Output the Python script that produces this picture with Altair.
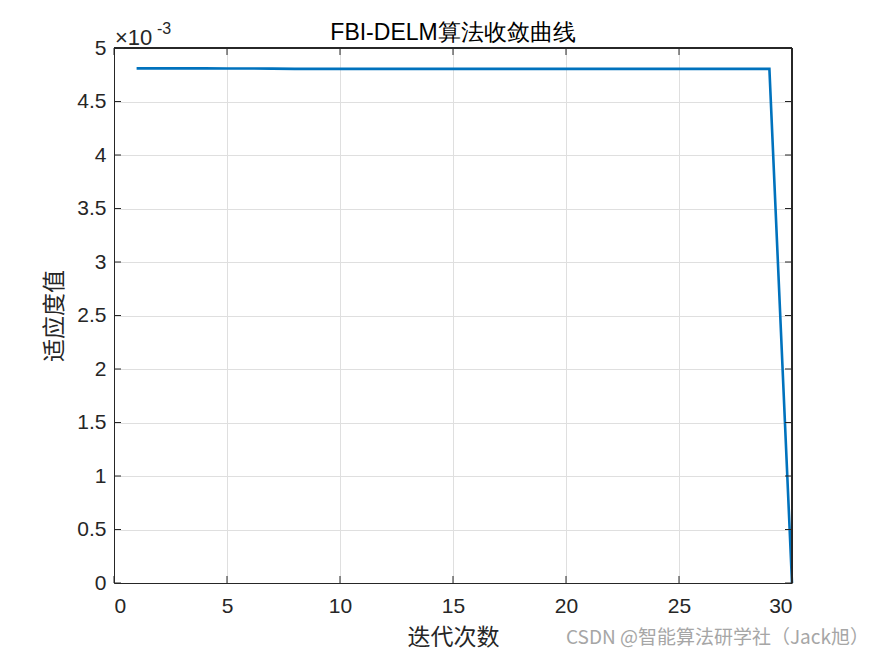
import altair as alt
import pandas as pd

# iteration numbers and fitness values
iterations = list(range(1, 31))
fitness = [0.004810, 0.004810, 0.004810, 0.004810, 0.004809, 0.004808, 0.004807,
           0.004805, 0.004805, 0.004805, 0.004805, 0.004805, 0.004805, 0.004805,
           0.004805, 0.004805, 0.004805, 0.004805, 0.004805, 0.004805, 0.004805,
           0.004805, 0.004805, 0.004805, 0.004805, 0.004805, 0.004805, 0.004805,
           0.004805, 0.0]
x_ticks = [0, 5, 10, 15, 20, 25, 30]
y_ticks = [0, 0.0005, 0.001, 0.0015, 0.002, 0.0025, 0.003, 0.0035, 0.004, 0.0045, 0.005]

title_text = "FBI-DELM算法收敛曲线"
x_title = "迭代次数"
y_title = "适应度值"
watermark = "CSDN @智能算法研学社（Jack旭）"

W, H = 678, 535
df = pd.DataFrame({"x": iterations, "y": fitness})
xt = pd.DataFrame({"v": x_ticks})
yt = pd.DataFrame({"v": y_ticks})

xs = alt.Scale(domain=[0, 30], nice=False, zero=False)
ys = alt.Scale(domain=[0, 0.005], nice=False, zero=False)

base_font = "Liberation Sans"
cjk = "Noto Sans CJK SC"

line = alt.Chart(df).mark_line(color="#0072BD", strokeWidth=2.6, clip=False).encode(
    x=alt.X("x:Q", scale=xs, axis=alt.Axis(
        values=x_ticks, title=x_title, titleFont=cjk, titleFontSize=23,
        titleFontWeight="normal", titleColor="#262626", titlePadding=10,
        labelFont=base_font, labelFontSize=21, labelColor="#262626", labelPadding=12,
        ticks=False, grid=True, gridColor="#dfdfdf", domainColor="#262626")),
    y=alt.Y("y:Q", scale=ys, axis=alt.Axis(
        values=y_ticks, title=y_title, titleFont=cjk, titleFontSize=23,
        titleFontWeight="normal", titleColor="#262626", titlePadding=10,
        labelFont=base_font, labelFontSize=21, labelColor="#262626", labelPadding=8,
        labelExpr="format(datum.value*1000, '')",
        ticks=False, grid=True, gridColor="#dfdfdf", domainColor="#262626")),
)

tk = dict(color="#262626", strokeWidth=1)
xb = alt.Chart(xt).mark_rule(**tk).encode(x=alt.X("v:Q", scale=xs), y=alt.value(H), y2=alt.value(H - 7))
xtop = alt.Chart(xt).mark_rule(**tk).encode(x=alt.X("v:Q", scale=xs), y=alt.value(0), y2=alt.value(7))
yl = alt.Chart(yt).mark_rule(**tk).encode(y=alt.Y("v:Q", scale=ys), x=alt.value(0), x2=alt.value(7))
yr = alt.Chart(yt).mark_rule(**tk).encode(y=alt.Y("v:Q", scale=ys), x=alt.value(W), x2=alt.value(W - 7))
top_border = alt.Chart(xt).mark_rule(**tk).encode(x=alt.value(0), x2=alt.value(W), y=alt.value(0))
right_border = alt.Chart(xt).mark_rule(**tk).encode(x=alt.value(W), y=alt.value(0), y2=alt.value(H))

ttl = alt.Chart(pd.DataFrame({"t": [title_text]})).mark_text(
    font=base_font, fontSize=23, color="#000000", align="center", baseline="middle"
).encode(text="t:N", x=alt.value(W / 2), y=alt.value(-15))

exp_base = alt.Chart(pd.DataFrame({"t": ["×10"]})).mark_text(
    font=base_font, fontSize=22, color="#262626", align="left", baseline="alphabetic"
).encode(text="t:N", x=alt.value(1), y=alt.value(-3))
exp_sup = alt.Chart(pd.DataFrame({"t": ["-3"]})).mark_text(
    font=base_font, fontSize=16, color="#262626", align="left", baseline="alphabetic"
).encode(text="t:N", x=alt.value(43), y=alt.value(-14))

wm = alt.Chart(pd.DataFrame({"t": [watermark]})).mark_text(
    font=cjk, fontSize=19, color="#a6a6a6", align="right", baseline="middle"
).encode(text="t:N", x=alt.value(755), y=alt.value(590))

chart = alt.layer(line, xb, xtop, yl, yr, top_border, right_border, ttl, exp_base, exp_sup, wm).properties(
    width=W, height=H,
    autosize=alt.AutoSizeParams(type="none"),
    padding={"left": 106, "top": 40, "right": 75, "bottom": 65},
).configure_view(stroke=None).configure(background="white")

chart.save("out.html", embed_options={"renderer": "svg", "actions": False})
